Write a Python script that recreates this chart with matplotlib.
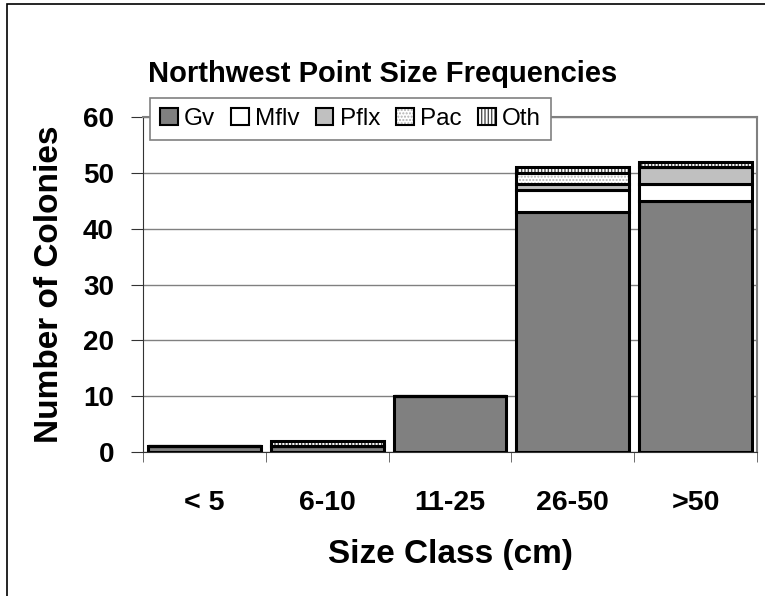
import matplotlib.pyplot as plt
import numpy as np
from matplotlib.patches import Rectangle, Patch
from matplotlib.legend_handler import HandlerTuple

plt.rcParams['font.family'] = ['Liberation Sans', 'DejaVu Sans']
plt.rcParams['hatch.linewidth'] = 1.0

size_classes = ["< 5", "6-10", "11-25", "26-50", ">50"]
species = ["Gv", "Mflv", "Pflx", "Pac", "Oth"]
gv = [1, 1, 10, 43, 45]
mflv = [0, 0, 0, 4, 3]
pflx = [0, 0, 0, 1, 3]
pac = [0, 0, 0, 2, 0]
oth = [0, 1, 0, 1, 1]

counts = [gv, mflv, pflx, pac, oth]
faces = ["#808080", "white", "#c0c0c0", "white", "white"]
hatches = [None, None, None, ".....", "|||||"]
hatch_cols = [None, None, None, "#b0b0b0", "#505050"]

fig = plt.figure(figsize=(7.65, 5.96), dpi=100)
# outer chart border
fig.patches.append(Rectangle((0.009, -0.1), 1.2, 1.093, transform=fig.transFigure,
                             fill=False, edgecolor="black", linewidth=1.2))

ax = fig.add_axes([0.187, 0.2416, 0.8025, 0.5621])
x = np.arange(len(size_classes))
bottom = np.zeros(len(size_classes))
handles = []
for name, vals, fc, h, hc in zip(species, counts, faces, hatches, hatch_cols):
    vals = np.array(vals)
    if h:
        # hatch drawn first in its own colour, black outline on top
        ax.bar(x, vals, width=0.92, bottom=bottom, color=fc, edgecolor=hc,
               linewidth=0, hatch=h, zorder=3)
        ax.bar(x, vals, width=0.92, bottom=bottom, fill=False, edgecolor="black",
               linewidth=2.2, zorder=4)
        handles.append((Patch(facecolor=fc, edgecolor=hc, hatch=h, linewidth=0),
                        Patch(fill=False, edgecolor="black", linewidth=1.5)))
    else:
        ax.bar(x, vals, width=0.92, bottom=bottom, color=fc, edgecolor="black",
               linewidth=2.2, zorder=3)
        handles.append(Patch(facecolor=fc, edgecolor="black", linewidth=1.5))
    bottom += vals

ax.set_xlim(-0.5, 4.5)
ax.set_ylim(0, 60)
ax.set_yticks(range(0, 61, 10))
ax.set_yticklabels([str(v) for v in range(0, 61, 10)], fontsize=20, fontweight="bold")
ax.set_xticks(x)
ax.set_xticklabels(size_classes, fontsize=20.5, fontweight="bold")
ax.tick_params(axis="x", length=0, pad=27)
ax.set_xticks(np.arange(-0.5, 5, 1), minor=True)
ax.tick_params(axis="x", which="minor", length=7, direction="out", color="#555555")
ax.tick_params(axis="y", length=9, direction="out", color="#333333", pad=12)
ax.grid(axis="y", color="#808080", linewidth=1, zorder=0)

for side in ["top", "right"]:
    ax.spines[side].set_color("#808080")
    ax.spines[side].set_linewidth(1.5)
ax.spines["left"].set_color("#333333")
ax.spines["bottom"].set_color("#333333")

ax.set_xlabel("Size Class (cm)", fontsize=24, fontweight="bold", labelpad=17)
ax.set_ylabel("Number of Colonies", fontsize=24, fontweight="bold", labelpad=13)
fig.text(0.5, 0.875, "Northwest Point Size Frequencies", ha="center", va="center",
         fontsize=21, fontweight="bold")

leg = fig.legend(handles=handles, labels=species, ncol=5, loc="upper left",
                 bbox_to_anchor=(0.196, 0.836), fontsize=17.5, frameon=True,
                 fancybox=False, edgecolor="#808080", framealpha=1,
                 handlelength=0.72, handleheight=0.72, handletextpad=0.25,
                 columnspacing=0.68, borderpad=0.42, borderaxespad=0,
                 handler_map={tuple: HandlerTuple(ndivide=1, pad=0)})
leg.get_frame().set_linewidth(1.2)

fig.savefig("out.png", dpi=100)
